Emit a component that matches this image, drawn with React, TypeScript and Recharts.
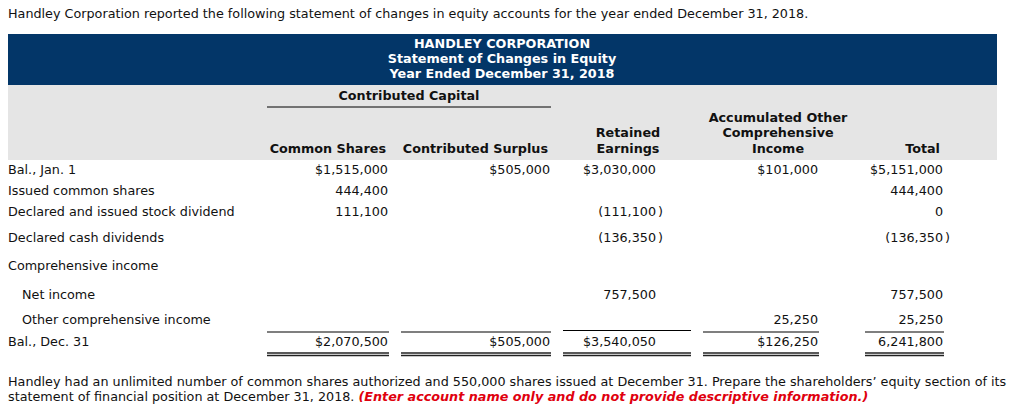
import React from "react";
import { Surface, Layer } from "recharts";

const introText =
  "Handley Corporation reported the following statement of changes in equity accounts for the year ended December 31, 2018.";
const titleLines = [
  "HANDLEY CORPORATION",
  "Statement of Changes in Equity",
  "Year Ended December 31, 2018",
];
const groupHeader = "Contributed Capital";
const columnHeaders: string[][] = [
  ["Common Shares"],
  ["Contributed Surplus"],
  ["Retained", "Earnings"],
  ["Accumulated Other", "Comprehensive", "Income"],
  ["Total"],
];
const rowLabels = [
  "Bal., Jan. 1",
  "Issued common shares",
  "Declared and issued stock dividend",
  "Declared cash dividends",
  "Comprehensive income",
  "Net income",
  "Other comprehensive income",
  "Bal., Dec. 31",
];
const rowIndent = [false, false, false, false, false, true, true, false];
const commonShares = ["$1,515,000", "444,400", "111,100", "", "", "", "", "$2,070,500"];
const contributedSurplus = ["$505,000", "", "", "", "", "", "", "$505,000"];
const retainedEarnings = ["$3,030,000", "", "(111,100)", "(136,350)", "", "757,500", "", "$3,540,050"];
const aoci = ["$101,000", "", "", "", "", "", "25,250", "$126,250"];
const totals = ["$5,151,000", "444,400", "0", "(136,350)", "", "757,500", "25,250", "6,241,800"];
const footerLine1 =
  "Handley had an unlimited number of common shares authorized and 550,000 shares issued at December 31. Prepare the shareholders\u2019 equity section of its";
const footerLine2 = "statement of financial position at December 31, 2018. ";
const footerNote = "(Enter account name only and do not provide descriptive information.)";

const FONT = "Verdana, 'DejaVu Sans', sans-serif";
const FS = 12.75;
const TEXT = "#111";

// layout
const rowY = [173.5, 194.5, 215.5, 241.5, 269.5, 298.5, 323.5, 345.5];
const colRight = [388, 550, 656, 818, 943];
const colHeaderAnchor: Array<{ x: number; anchor: "end" | "middle" }> = [
  { x: 386, anchor: "end" },
  { x: 548, anchor: "end" },
  { x: 628, anchor: "middle" },
  { x: 778, anchor: "middle" },
  { x: 940, anchor: "end" },
];
const totalLines: Array<[number, number]> = [
  [267, 389],
  [401, 551],
  [563, 691],
  [703, 819],
  [865, 944],
];

const columns = [commonShares, contributedSurplus, retainedEarnings, aoci, totals];

function Value({ v, x, y }: { v: string; x: number; y: number }) {
  if (!v) return null;
  if (v.startsWith("(") && v.endsWith(")")) {
    return (
      <g>
        <text x={x} y={y} textAnchor="end" fontSize={FS} fill={TEXT}>
          {v.slice(0, -1)}
        </text>
        <text x={x + 2} y={y} textAnchor="start" fontSize={FS} fill={TEXT}>
          )
        </text>
      </g>
    );
  }
  return (
    <text x={x} y={y} textAnchor="end" fontSize={FS} fill={TEXT}>
      {v}
    </text>
  );
}

export default function App() {
  return (
    <div style={{ position: "absolute", left: 0, top: 0, width: 1024, height: 406, background: "#fff" }}>
      <Surface width={1024} height={406} style={{ fontFamily: FONT }}>
        <Layer>
          <text x={8} y={17.5} fontSize={FS} fill={TEXT}>
            {introText}
          </text>
          <rect x={8} y={34} width={989} height={51} fill="#033668" />
          <rect x={8} y={85} width={989} height={75} fill="#e5e5e5" />
          {titleLines.map((t, i) => (
            <text key={t} x={502} y={47.5 + i * 15} textAnchor="middle" fontSize={FS} fontWeight="bold" fill="#fff">
              {t}
            </text>
          ))}
          <text x={409} y={99.5} textAnchor="middle" fontSize={FS} fontWeight="bold" fill={TEXT}>
            {groupHeader}
          </text>
          <line x1={267} x2={551} y1={107} y2={107} stroke="#000" strokeWidth={1} />
          {columnHeaders.map((lines, c) =>
            lines.map((t, i) => (
              <text
                key={c + "-" + i}
                x={colHeaderAnchor[c].x}
                y={152.5 - (lines.length - 1 - i) * 15.5}
                textAnchor={colHeaderAnchor[c].anchor}
                fontSize={FS}
                fontWeight="bold"
                fill={TEXT}
              >
                {t}
              </text>
            ))
          )}
          {rowLabels.map((l, r) => (
            <text key={l} x={rowIndent[r] ? 22 : 8} y={rowY[r]} fontSize={FS} fill={TEXT}>
              {l}
            </text>
          ))}
          {columns.map((col, c) =>
            col.map((v, r) => <Value key={c + "-" + r} v={v} x={colRight[c]} y={rowY[r]} />)
          )}
          {totalLines.map(([a, b], i) => (
            <g key={i}>
              <line x1={a} x2={b} y1={i === 2 ? 330.5 : 332} y2={i === 2 ? 330.5 : 332} stroke="#000" strokeWidth={1.2} />
              <line x1={a} x2={b} y1={353} y2={353} stroke="#222" strokeWidth={1.3} />
              <line x1={a} x2={b} y1={355.5} y2={355.5} stroke="#222" strokeWidth={1.3} />
            </g>
          ))}
          <text x={8} y={385.5} fontSize={FS} fill={TEXT}>
            {footerLine1}
          </text>
          <text x={8} y={400.5} fontSize={FS} fill={TEXT}>
            {footerLine2}
            <tspan fill="#e0000e" fontWeight="bold" fontStyle="italic">
              {footerNote}
            </tspan>
          </text>
        </Layer>
      </Surface>
    </div>
  );
}
